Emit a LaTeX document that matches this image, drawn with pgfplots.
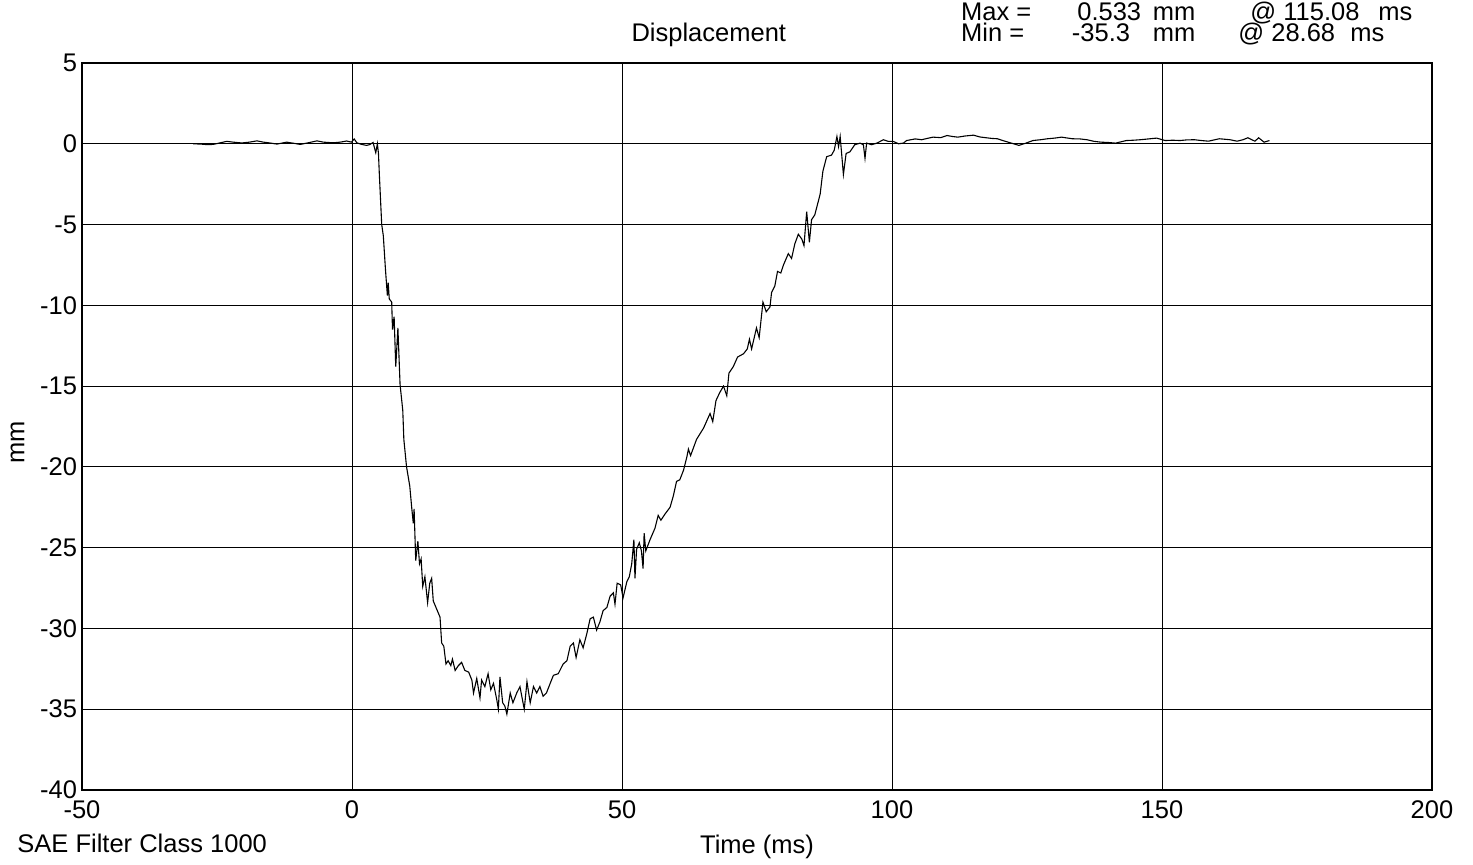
\documentclass[border=0pt]{standalone}
\usepackage{pgfplots}
\pgfplotsset{compat=1.18}
\usepackage{fontspec}
\setmainfont{Liberation Sans}
\newcommand\fs{\fontsize{12.75}{15}\selectfont}
\begin{document}
\begin{tikzpicture}
\begin{axis}[
  scale only axis, width=675pt, height=363.5pt,
  xmin=-50, xmax=200, ymin=-40, ymax=5,
  xtick={-50,0,50,100,150,200},
  ytick={-40,-35,-30,-25,-20,-15,-10,-5,0,5},
  grid=major, major grid style={black, line width=0.5pt},
  tick style={draw=none},
  axis line style={black, line width=0.6pt},
  ticklabel style={font=\fs},
  xticklabel style={yshift=-2pt},
  yticklabel style={xshift=1pt},
  /pgf/number format/assume math mode=true,
  clip=false,
]
\addplot[black, line width=0.55pt] coordinates {
(-29.4,0.0) (-28,-0.02) (-26.9,-0.05) (-25.7,-0.04) (-24.5,0.05) (-23.2,0.15) (-22,0.1) (-20.4,0.05) (-19,0.1) (-17.6,0.18) (-16.4,0.1) (-15,0.04) (-13.9,-0.02) (-12.1,0.1) (-10.8,0.03) (-9.6,-0.04) (-8.1,0.06) (-6.5,0.18) (-5.3,0.1) (-3.5,0.06) (-2.2,0.1) (-1.0,0.17) (-0.1,0.1) (0.4,0.3) (0.9,0.06) (1.8,-0.04) (2.7,-0.1) (3.3,-0.05) (3.9,0.08) (4.4,-0.55) (4.7,0) (4.9,-0.6) (5.05,-1.8) (5.5,-5.0) (5.8,-5.7) (6.2,-7.8) (6.55,-9.4) (6.7,-8.6) (6.9,-9.6) (7.35,-9.8) (7.5,-11.5) (7.8,-10.7) (8.1,-13.8) (8.5,-11.4) (8.9,-14.9) (9.4,-16.5) (9.6,-18.3) (10.1,-20.0) (10.7,-21.2) (11.05,-22.5) (11.35,-23.5) (11.5,-22.6) (11.8,-25.8) (12.2,-24.6) (12.5,-26.0) (12.8,-25.7) (13.1,-27.4) (13.5,-26.8) (14.0,-28.4) (14.4,-27.2) (14.75,-26.9) (15.05,-28.3) (15.55,-28.7) (16.3,-29.3) (16.6,-30.9) (17.0,-31.1) (17.4,-32.2) (17.8,-32.0) (18.3,-32.3) (18.6,-31.9) (19.1,-32.6) (19.7,-32.3) (20.3,-32.1) (20.9,-32.6) (21.6,-32.7) (22.2,-33.2) (22.5,-34.0) (23.1,-33.1) (23.7,-34.3) (24.0,-33.2) (24.6,-33.6) (25.2,-32.8) (25.7,-33.8) (26.2,-33.4) (26.8,-34.4) (27.1,-35.0) (27.4,-33.0) (27.9,-34.6) (28.3,-34.8) (28.68,-35.3) (29.3,-34.0) (29.8,-34.6) (30.5,-34.0) (31.1,-33.6) (31.9,-35.0) (32.4,-33.3) (33.0,-34.6) (33.6,-33.6) (34.2,-34.0) (34.8,-33.6) (35.4,-34.2) (36.0,-34.0) (36.7,-33.4) (37.3,-32.9) (38.2,-32.8) (39.1,-32.2) (39.8,-32.0) (40.4,-31.1) (41.0,-30.9) (41.5,-31.8) (42.2,-30.7) (42.8,-31.2) (43.5,-30.3) (44.1,-29.4) (44.7,-29.3) (45.3,-30.1) (45.9,-29.6) (46.5,-28.9) (47.2,-28.7) (47.8,-28.0) (48.4,-27.8) (48.7,-28.5) (49.1,-27.2) (49.75,-27.3) (50.2,-28.1) (50.9,-27.1) (51.35,-26.8) (51.8,-26.0) (52.2,-24.5) (52.4,-26.9) (52.7,-25.1) (53.2,-24.7) (53.6,-25.2) (53.9,-26.3) (54.1,-24.1) (54.4,-25.2) (55.2,-24.5) (56.1,-23.8) (56.7,-23.0) (57.2,-23.3) (58.0,-22.9) (58.9,-22.5) (59.5,-21.8) (60.1,-20.9) (60.7,-20.8) (61.4,-20.2) (62.0,-19.4) (62.3,-18.9) (62.7,-19.3) (63.8,-18.3) (65.1,-17.6) (66.3,-16.7) (66.8,-17.2) (67.4,-15.9) (68.1,-15.4) (68.8,-15.0) (69.4,-15.6) (69.8,-14.2) (70.6,-13.8) (71.4,-13.2) (72.5,-13.0) (73.2,-12.7) (73.6,-12.1) (74.0,-12.7) (74.9,-11.4) (75.4,-12.0) (76.1,-9.8) (76.7,-10.4) (77.4,-10.1) (77.7,-9.2) (78.3,-8.8) (78.8,-7.9) (79.4,-8.0) (79.9,-7.5) (80.8,-6.8) (81.4,-7.1) (82.0,-6.2) (82.65,-5.6) (83.3,-5.9) (83.7,-6.3) (84.2,-4.2) (84.7,-6.1) (85.1,-4.7) (85.7,-4.4) (86.4,-3.5) (86.7,-3.1) (87.2,-1.7) (87.9,-0.8) (88.8,-0.7) (89.3,-0.4) (89.8,0.45) (90.1,-0.17) (90.4,0.45) (91.0,-1.9) (91.5,-0.6) (92.2,-0.5) (93.1,-0.06) (94.1,0.04) (94.7,-0.06) (95.0,-0.9) (95.3,0.04) (96.2,-0.06) (97.2,0.04) (98.4,0.25) (99.3,0.15) (100.2,0.15) (101.2,0.0) (102.1,0.04) (102.7,0.2) (104.3,0.3) (105.5,0.25) (106.5,0.33) (107.6,0.41) (109.0,0.38) (110.2,0.51) (111.2,0.45) (112.2,0.41) (113.5,0.48) (115.08,0.533) (116.3,0.42) (117.5,0.37) (118.5,0.33) (119.5,0.31) (120.5,0.2) (121.5,0.10) (122.5,0.0) (123.5,-0.1) (124.8,0.04) (126.1,0.2) (127.5,0.25) (128.8,0.31) (130.1,0.35) (131.4,0.41) (133.4,0.31) (134.8,0.3) (136.1,0.25) (137.4,0.15) (138.7,0.1) (140.0,0.08) (141.4,0.04) (143.4,0.2) (144.7,0.22) (146.0,0.25) (147.5,0.3) (149.0,0.35) (150.6,0.2) (152.0,0.22) (153.3,0.2) (154.6,0.24) (156.0,0.25) (157.3,0.2) (158.6,0.16) (160.6,0.31) (162.6,0.25) (163.9,0.16) (165.0,0.25) (165.9,0.37) (167.2,0.16) (167.9,0.37) (168.9,0.1) (169.9,0.2)
};
\coordinate (bl) at (rel axis cs:-0.06074,-0.10316);
\coordinate (tr) at (rel axis cs:1.03037,1.08666);
\node[anchor=base, font=\fs] at (rel axis cs:0.4643,1.0289) {Displacement};
\node[anchor=base west, font=\fs, inner sep=0pt] at (rel axis cs:0.6509,1.0578) {Max =};
\node[anchor=base west, font=\fs, inner sep=0pt] at (rel axis cs:0.7370,1.0578) {0.533};
\node[anchor=base west, font=\fs, inner sep=0pt] at (rel axis cs:0.7930,1.0578) {mm};
\node[anchor=base west, font=\fs, inner sep=0pt] at (rel axis cs:0.8652,1.0578) {@ 115.08};
\node[anchor=base west, font=\fs, inner sep=0pt] at (rel axis cs:0.9600,1.0578) {ms};
\node[anchor=base west, font=\fs, inner sep=0pt] at (rel axis cs:0.6509,1.0289) {Min =};
\node[anchor=base west, font=\fs, inner sep=0pt] at (rel axis cs:0.7330,1.0289) {-35.3};
\node[anchor=base west, font=\fs, inner sep=0pt] at (rel axis cs:0.7930,1.0289) {mm};
\node[anchor=base west, font=\fs, inner sep=0pt] at (rel axis cs:0.8563,1.0289) {@ 28.68};
\node[anchor=base west, font=\fs, inner sep=0pt] at (rel axis cs:0.9393,1.0289) {ms};
\node[anchor=base, font=\fs] at (rel axis cs:0.5,-0.0880) {Time (ms)};
\node[anchor=base west, font=\fs, inner sep=0pt] at (rel axis cs:-0.0481,-0.0866) {SAE Filter Class 1000};
\node[rotate=90, font=\fs] at (rel axis cs:-0.0478,0.478) {mm};
\end{axis}
\pgfresetboundingbox
\path[use as bounding box] (bl) rectangle (tr);
\end{tikzpicture}
\end{document}
